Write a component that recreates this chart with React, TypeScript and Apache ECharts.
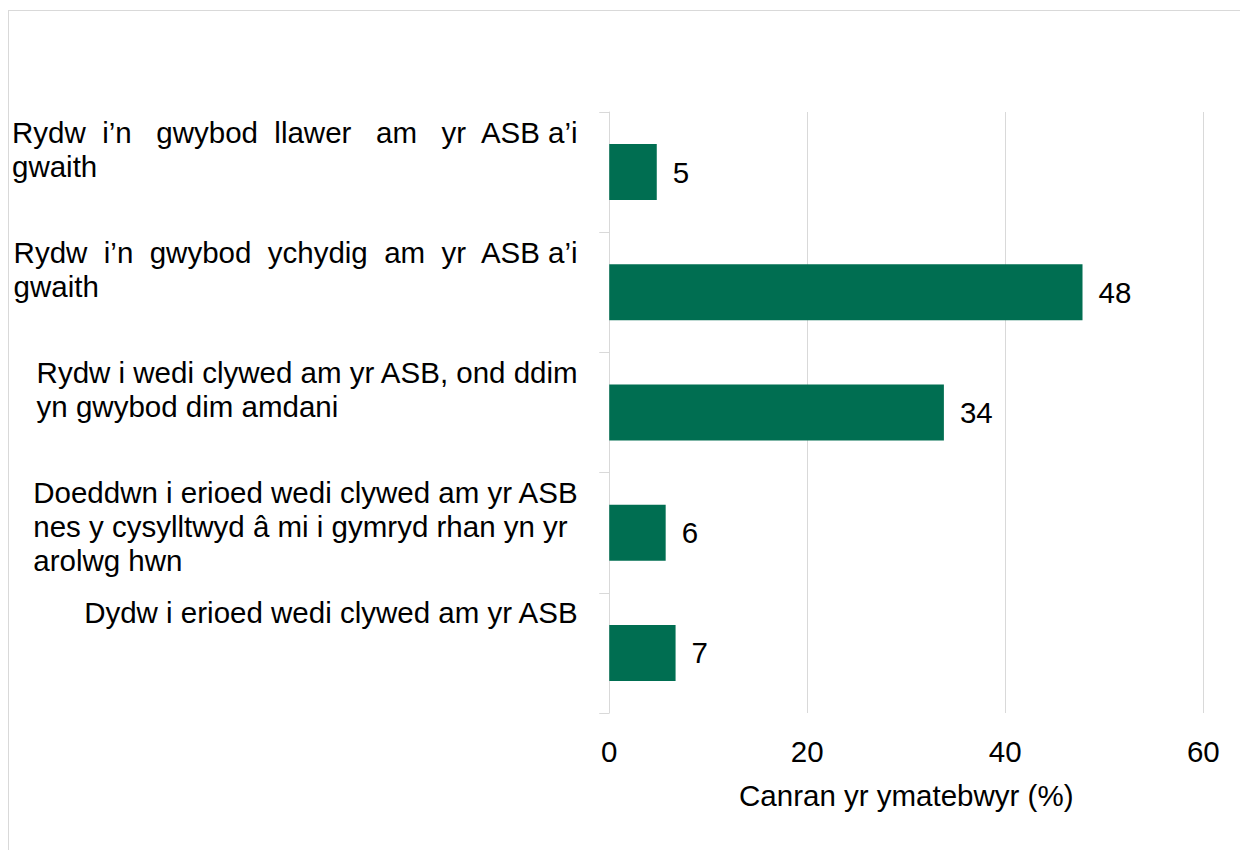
import React, { useEffect, useRef } from "react";
import * as echarts from "echarts";

// ---- Data ----
const categories: string[] = [
  "Rydw i’n gwybod llawer am yr ASB a’i gwaith",
  "Rydw i’n gwybod ychydig am yr ASB a’i gwaith",
  "Rydw i wedi clywed am yr ASB, ond ddim yn gwybod dim amdani",
  "Doeddwn i erioed wedi clywed am yr ASB nes y cysylltwyd â mi i gymryd rhan yn yr arolwg hwn",
  "Dydw i erioed wedi clywed am yr ASB",
];

// Line breaks of each category label as shown (first two are justified)
const labelLines: string[][] = [
  ["Rydw\u00a0 i’n\u00a0\u00a0 gwybod\u00a0 llawer\u00a0\u00a0 am\u00a0\u00a0 yr\u00a0 ASB a’i", "gwaith"],
  ["Rydw\u00a0 i’n\u00a0 gwybod\u00a0 ychydig\u00a0 am\u00a0 yr\u00a0 ASB a’i", "gwaith"],
  ["Rydw i wedi clywed am yr ASB, ond ddim", "yn gwybod dim amdani"],
  ["Doeddwn i erioed wedi clywed am yr ASB", "nes y cysylltwyd â mi i gymryd rhan yn yr", "arolwg hwn"],
  ["Dydw i erioed wedi clywed am yr ASB"],
];

const values: number[] = [4.8, 47.8, 33.8, 5.7, 6.7];

const xMin = 0;
const xMax = 60;
const xInterval = 20;
const xAxisName = "Canran yr ymatebwyr (%)";

// ---- Style ----
const FONT = "'Liberation Sans', Arial, Helvetica, sans-serif";
const FS = 29.5;
const CHART_W = 1231;
const CHART_H = 839;
const GRID_COLOR = "#d9d9d9";
const BAR_COLOR = "#006e51";

export default function App() {
  const ref = useRef<HTMLDivElement | null>(null);

  useEffect(() => {
    document.documentElement.style.overflow = "hidden";
    document.body.style.overflow = "hidden";
    if (!ref.current) return;
    const chart = echarts.init(ref.current, null, {
      renderer: "svg",
      width: CHART_W,
      height: CHART_H,
    });

    const option: any = {
      animation: false,
      textStyle: { fontFamily: FONT },
      grid: { left: 598, top: 101, width: 596.3, height: 601, containLabel: false },
      xAxis: {
        type: "value",
        min: xMin,
        max: xMax,
        interval: xInterval,
        axisLine: { show: false },
        axisTick: { show: false },
        splitLine: { show: true, lineStyle: { color: GRID_COLOR, width: 1 } },
        axisLabel: { fontSize: FS, color: "#000", margin: 23, fontFamily: FONT },
        name: xAxisName,
        nameLocation: "middle",
        nameGap: 67,
        nameTextStyle: { fontSize: FS, color: "#000", fontFamily: FONT },
      },
      yAxis: [
        {
          type: "category",
          data: categories,
          inverse: true,
          position: "left",
          axisLine: { show: true, lineStyle: { color: GRID_COLOR, width: 1 } },
          axisTick: { show: true, interval: 0, length: 10, lineStyle: { color: GRID_COLOR } },
          axisLabel: { show: false, interval: 0 },
          splitLine: { show: false },
        },
        {
          type: "category",
          data: [...categories, ""],
          inverse: true,
          boundaryGap: false,
          position: "left",
          axisLine: { show: false },
          axisTick: { show: false },
          splitLine: { show: false },
          axisLabel: {
            show: true,
            interval: 0,
            align: "right",
            verticalAlign: "top",
            margin: 30,
            padding: [3, 0, 0, 0],
            fontSize: FS,
            lineHeight: 34,
            color: "#000",
            fontFamily: FONT,
            formatter: (_v: string, i: number) => {
              const lines = labelLines[i];
              if (!lines) return "";
              return lines.map((l) => `{l|${l}}`).join("\n");
            },
            rich: {
              l: {
                align: "left",
                fontSize: FS,
                lineHeight: 34,
                color: "#000",
                fontFamily: FONT,
              },
            },
          },
        },
      ],
      series: [
        {
          type: "bar",
          yAxisIndex: 0,
          data: values,
          barWidth: 56,
          itemStyle: { color: BAR_COLOR },
          label: {
            show: true,
            position: "right",
            distance: 16,
            fontSize: FS,
            color: "#000",
            fontFamily: FONT,
            formatter: (p: any) => String(Math.round(p.value)),
          },
        },
      ],
    };

    chart.setOption(option);
    return () => chart.dispose();
  }, []);

  return (
    <div
      style={{
        position: "absolute",
        left: 8,
        top: 10,
        width: 1232,
        height: 840,
        boxSizing: "border-box",
        borderTop: `1px solid ${GRID_COLOR}`,
        borderLeft: `1px solid ${GRID_COLOR}`,
        overflow: "hidden",
        background: "#fff",
      }}
    >
      <div ref={ref} style={{ width: CHART_W, height: CHART_H }} />
    </div>
  );
}
